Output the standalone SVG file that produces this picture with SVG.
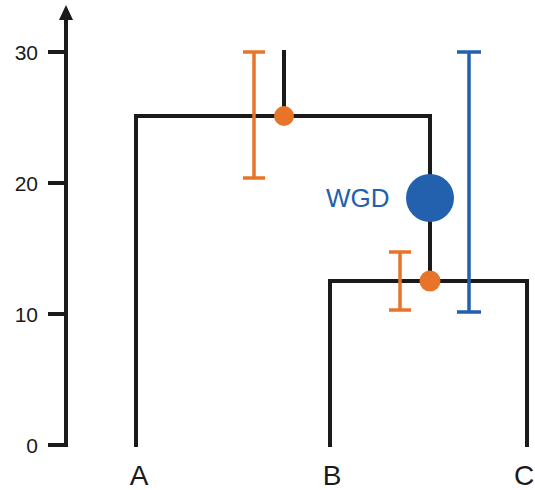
<svg xmlns="http://www.w3.org/2000/svg" width="535" height="490" viewBox="0 0 535 490">
<style>
.ax{stroke:#1a1a1a;stroke-width:4;fill:none}
.br{stroke:#1a1a1a;stroke-width:4;fill:none;stroke-linecap:square}
.eo{stroke:#E8742A;stroke-width:3.5;fill:none}
.eb{stroke:#2360AE;stroke-width:3.5;fill:none}
.tk{font-family:"Liberation Sans",Arial,sans-serif;font-size:21px;fill:#1a1a1a;text-anchor:end}
.lf{font-family:"Liberation Sans",Arial,sans-serif;font-size:28px;fill:#1a1a1a;text-anchor:middle}
</style>
<rect width="535" height="490" fill="#fff"/>
<g id="axis">
<line class="ax" x1="66" y1="447" x2="66" y2="16"/>
<polygon points="66,5 59,20 73,20" fill="#1a1a1a"/>
<line class="ax" x1="48" y1="52" x2="66" y2="52"/>
<line class="ax" x1="48" y1="183" x2="66" y2="183"/>
<line class="ax" x1="48" y1="314" x2="66" y2="314"/>
<line class="ax" x1="48" y1="445" x2="68" y2="445"/>
<text class="tk" x="38" y="60">30</text>
<text class="tk" x="38" y="191">20</text>
<text class="tk" x="38" y="322">10</text>
<text class="tk" x="38" y="453">0</text>
</g>
<g id="connectors">
<line class="br" x1="284" y1="52" x2="284" y2="116"/>
<polyline class="br" points="136,445 136,116 430,116 430,281"/>
<polyline class="br" points="330,445 330,281 527,281 527,445"/>
</g>
<g id="errorbars">
<path class="eo" d="M243,52H265M254,52V178M243,178H265"/>
<path class="eo" d="M389,252H411M400,252V310M389,310H411"/>
<path class="eb" d="M457,52H481M469,52V312M457,312H481"/>
</g>
<g id="node-root"><circle cx="284" cy="116" r="10" fill="#E8742A"/></g>
<g id="node-bc"><circle cx="430" cy="281" r="10.5" fill="#E8742A"/></g>
<g id="node-wgd">
<circle cx="430" cy="198" r="24" fill="#2360AE"/>
<text x="326" y="207" font-family="Liberation Sans,Arial,sans-serif" font-size="26" fill="#2360AE">WGD</text>
</g>
<g id="leaves">
<text class="lf" x="139" y="485">A</text>
<text class="lf" x="332" y="485">B</text>
<text class="lf" x="524" y="485">C</text>
</g>
</svg>
